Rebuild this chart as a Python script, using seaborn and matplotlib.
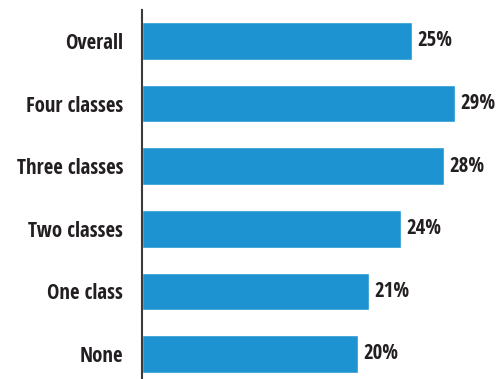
import matplotlib
matplotlib.use("Agg")
import matplotlib.pyplot as plt
import seaborn as sns
import pandas as pd

categories = ["Overall", "Four classes", "Three classes", "Two classes", "One class", "None"]
values = [25, 29, 28, 24, 21, 20]
value_labels = ["25%", "29%", "28%", "24%", "21%", "20%"]

sns.set_theme(style="white")
plt.rcParams["font.family"] = ["Open Sans Condensed", "PT Sans Narrow", "DejaVu Sans"]

df = pd.DataFrame({"category": categories, "value": values})

fig = plt.figure(figsize=(4.96, 3.79), dpi=100)
ax = fig.add_axes([142 / 496, 0, 1 - 142 / 496, 1 - 10 / 379])

sns.barplot(data=df, x="value", y="category", orient="h", color="#1e93d2",
            saturation=1, width=0.6, ax=ax)

ax.set_xlim(0, 32.8)
ax.set_ylim(5.4, -0.495)
ax.set_xlabel("")
ax.set_ylabel("")
ax.set_xticks([])

for i, (v, lab) in enumerate(zip(values, value_labels)):
    ax.text(v + 0.5, i, lab, va="center", ha="left", fontsize=15,
            fontweight="bold", color="#231f20")

ax.tick_params(axis="y", length=0, pad=13.5, labelsize=15, labelcolor="#231f20")
for t in ax.get_yticklabels():
    t.set_fontweight("bold")

for s in ["top", "right", "bottom"]:
    ax.spines[s].set_visible(False)
ax.spines["left"].set_color("#3a3a3a")
ax.spines["left"].set_linewidth(1.5)

fig.savefig("out.png", dpi=100)
